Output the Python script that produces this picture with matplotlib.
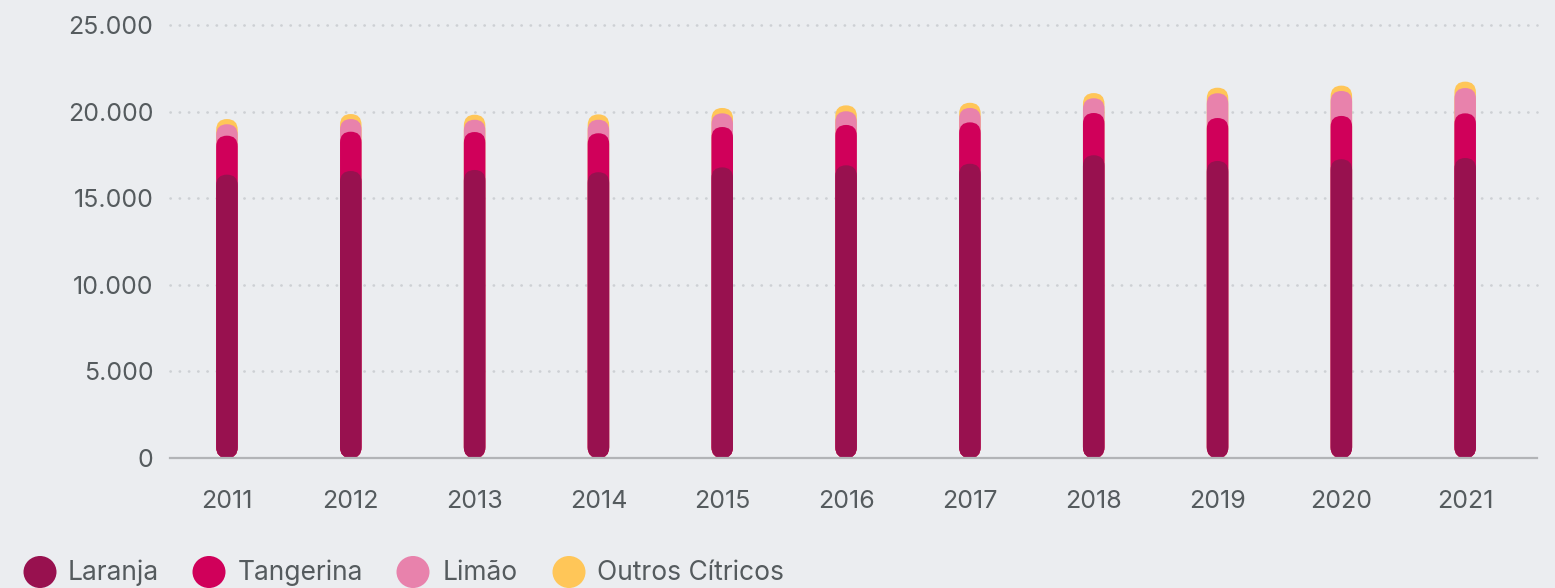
import matplotlib
matplotlib.use('Agg')
import matplotlib.pyplot as plt
from matplotlib.patches import FancyBboxPatch, Ellipse

years = ['2011', '2012', '2013', '2014', '2015', '2016', '2017', '2018', '2019', '2020', '2021']
laranja = [16360, 16570, 16630, 16500, 16780, 16900, 16990, 17480, 17150, 17250, 17320]
tangerina = [2250, 2270, 2190, 2250, 2330, 2330, 2390, 2440, 2480, 2500, 2580]
limao = [660, 730, 710, 780, 790, 790, 830, 850, 1430, 1440, 1460]
outros = [300, 290, 290, 310, 310, 340, 300, 300, 320, 310, 370]

series_names = ['Laranja', 'Tangerina', 'Limão', 'Outros Cítricos']
series_values = [laranja, tangerina, limao, outros]
colors = ['#98114f', '#d0005a', '#e882ac', '#ffc658']

yticks = [0, 5000, 10000, 15000, 20000, 25000]
ytick_labels = ['0', '5.000', '10.000', '15.000', '20.000', '25.000']

BG = '#ebedf0'
TXT = '#555b5e'
FONT = ['Inter', 'DejaVu Sans']
FS = 18

W, H = 1555, 588
fig = plt.figure(figsize=(W / 100, H / 100), dpi=100, facecolor=BG)
ax = fig.add_axes([170 / W, 1 - 458 / H, (1537 - 170) / W, (458 - 25) / H])
ax.set_facecolor(BG)
ax.set_xlim(-0.46, len(years) - 1 + 0.58)
ax.set_ylim(0, 25000)

for s in ['left', 'right', 'top']:
    ax.spines[s].set_visible(False)
ax.spines['bottom'].set_color('#b2b4b7')
ax.spines['bottom'].set_linewidth(1.6)
ax.spines['bottom'].set_zorder(10)

ax.set_yticks(yticks)
ax.set_yticklabels(ytick_labels)
ax.set_xticks(range(len(years)))
ax.set_xticklabels(years)
ax.tick_params(axis='both', length=0, colors=TXT, labelsize=FS)
ax.tick_params(axis='y', pad=12)
ax.tick_params(axis='x', pad=23)
for lbl in ax.get_xticklabels() + ax.get_yticklabels():
    lbl.set_fontfamily(FONT)

for yv in yticks[1:]:
    ax.axhline(yv, color='#cdd0d4', lw=1.9, linestyle=(0, (0.1, 3.4)),
               dash_capstyle='round', zorder=0, clip_on=False)

# conversion for rounded caps
p0 = ax.transData.transform((0, 0))
p1 = ax.transData.transform((1, 1))
px_per_x = p1[0] - p0[0]
px_per_y = p1[1] - p0[1]
bar_w = 21.5 / px_per_x
aspect = (1 / px_per_y) / (1 / px_per_x)

n = len(series_values)
cums = []
running = [0] * len(years)
for vals in series_values:
    running = [r + v for r, v in zip(running, vals)]
    cums.append(list(running))

for i in range(n - 1, -1, -1):
    for xi, top in enumerate(cums[i]):
        patch = FancyBboxPatch((xi - bar_w / 2, 0), bar_w, top,
                               boxstyle=f"round,pad=0,rounding_size={bar_w / 2}",
                               mutation_aspect=aspect, facecolor=colors[i],
                               edgecolor='none', zorder=5 + (n - i))
        ax.add_patch(patch)

# legend
lax = fig.add_axes([0, 0, 1, 1])
lax.set_xlim(0, W)
lax.set_ylim(H, 0)
lax.axis('off')
lax.patch.set_alpha(0)
circle_x = [40, 209, 413, 569]
text_x = [68, 238, 443, 597]
ly = 572
for name, c, cx, tx in zip(series_names, colors, circle_x, text_x):
    lax.add_patch(Ellipse((cx, ly), 33, 32, facecolor=c, edgecolor='none'))
    lax.text(tx, ly + 1, name, color=TXT, fontsize=19, family=FONT,
             va='center', ha='left')

fig.savefig('out.png', dpi=100, facecolor=BG)
